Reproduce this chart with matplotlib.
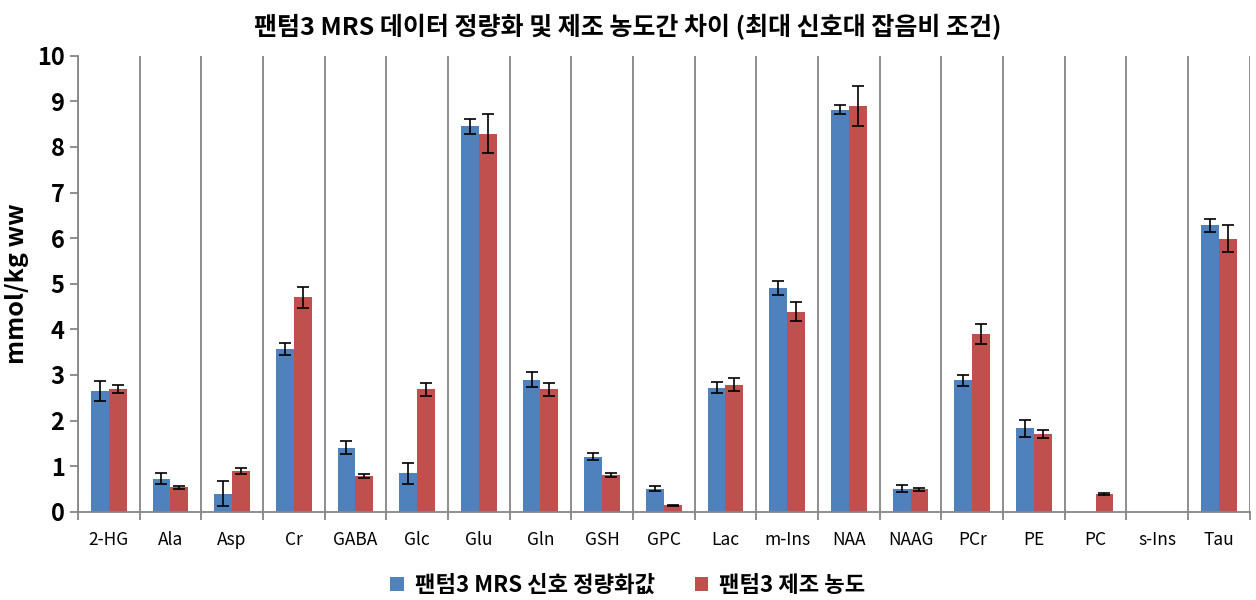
import numpy as np
import matplotlib.pyplot as plt
from matplotlib.ticker import FixedLocator

plt.rcParams['font.family'] = ['Noto Sans CJK KR', 'DejaVu Sans']

labels = ['2-HG', 'Ala', 'Asp', 'Cr', 'GABA', 'Glc', 'Glu', 'Gln', 'GSH', 'GPC',
          'Lac', 'm-Ins', 'NAA', 'NAAG', 'PCr', 'PE', 'PC', 's-Ins', 'Tau']

# 팬텀3 MRS 신호 정량화값
mrs = [2.65, 0.72, 0.40, 3.57, 1.41, 0.84, 8.45, 2.90, 1.21, 0.51,
       2.72, 4.91, 8.82, 0.51, 2.88, 1.83, 0.0, 0.0, 6.28]
mrs_err = [0.22, 0.12, 0.28, 0.13, 0.15, 0.22, 0.17, 0.17, 0.08, 0.05,
           0.12, 0.15, 0.10, 0.08, 0.13, 0.19, 0.0, 0.0, 0.15]

# 팬텀3 제조 농도
made = [2.69, 0.54, 0.89, 4.70, 0.79, 2.69, 8.29, 2.69, 0.80, 0.14,
        2.79, 4.39, 8.90, 0.49, 3.89, 1.70, 0.39, 0.0, 5.99]
made_err = [0.08, 0.03, 0.06, 0.22, 0.04, 0.14, 0.43, 0.14, 0.04, 0.01,
            0.15, 0.20, 0.43, 0.03, 0.22, 0.09, 0.02, 0.0, 0.29]

blue = '#4f81bd'
red = '#c0504d'
gray = '#868686'

fig = plt.figure(figsize=(12.56, 6.0), dpi=100)
ax = fig.add_axes([0.062, 0.147, 0.933, 0.76])

x = np.arange(len(labels))
w = 0.29
ek = dict(ecolor='black', elinewidth=1.2, capsize=4, capthick=1.2)

ax.bar(x - w / 2, mrs, w, color=blue, label='팬텀3 MRS 신호 정량화값')
ax.bar(x + w / 2, made, w, color=red, label='팬텀3 제조 농도')
for xs, v, e in zip(x - w / 2, mrs, mrs_err):
    if e > 0:
        ax.errorbar(xs, v, yerr=e, fmt='none', **ek)
for xs, v, e in zip(x + w / 2, made, made_err):
    if e > 0:
        ax.errorbar(xs, v, yerr=e, fmt='none', **ek)

ax.set_xlim(-0.5, len(labels) - 0.5)
ax.set_ylim(0, 10)
ax.set_yticks(range(0, 11))
ax.set_xticks(x)
ax.set_xticklabels(labels, fontsize=12.5)
ax.xaxis.set_minor_locator(FixedLocator(np.arange(-0.5, len(labels), 1.0)))
ax.tick_params(axis='x', which='major', length=0, pad=14)
ax.tick_params(axis='x', which='minor', length=6, color=gray, width=1.3)
ax.tick_params(axis='y', length=6, color=gray, width=1.3, labelsize=17)
for t in ax.get_yticklabels():
    t.set_fontweight('bold')
ax.grid(axis='x', which='minor', color=gray, linewidth=1.3)
ax.set_axisbelow(True)

for s in ['top', 'right']:
    ax.spines[s].set_visible(False)
for s in ['left', 'bottom']:
    ax.spines[s].set_color(gray)
    ax.spines[s].set_linewidth(1.3)

ax.set_ylabel('mmol/kg ww', fontsize=18, fontweight='bold', labelpad=6)
fig.text(0.5, 0.955, '팬텀3 MRS 데이터 정량화 및 제조 농도간 차이 (최대 신호대 잡음비 조건)',
         ha='center', va='center', fontsize=18, fontweight='bold')

leg = fig.legend(loc='lower center', bbox_to_anchor=(0.5, -0.028), ncol=2, frameon=False,
                 prop={'size': 16, 'weight': 'bold'}, handlelength=0.6, handleheight=0.6,
                 columnspacing=1.8, handletextpad=0.5)

fig.savefig('out.png', dpi=100)
